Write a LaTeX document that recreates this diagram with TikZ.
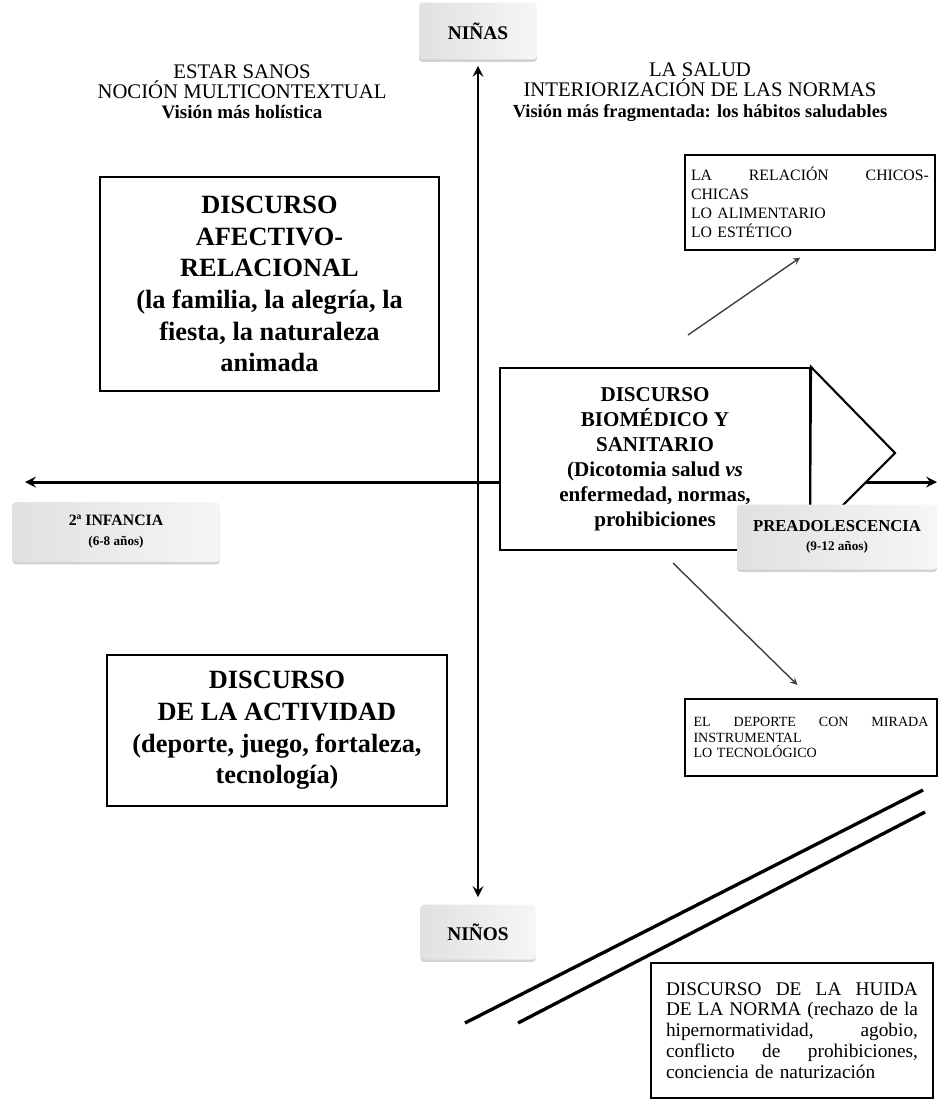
\documentclass[tikz,border=0pt]{standalone}
\usepackage{fontspec}
\setmainfont{Liberation Serif}
\usetikzlibrary{positioning, arrows, shadows}
\tikzset{>=stealth,
  discbox/.style={draw, line width=1.2pt, fill=white, align=center, font=\bfseries\fontsize{15}{18}\selectfont},
  agebox/.style={left color=gray!24, right color=gray!7, rounded corners=2pt, align=center,
    drop shadow={shadow xshift=0pt, shadow yshift=-1.4pt, opacity=.45, fill=gray!80},
    font=\bfseries\fontsize{9}{11.5}\selectfont},
  notebox/.style={draw, line width=0.9pt, fill=white, align=left, inner ysep=4pt},
  header/.style={align=center, font=\fontsize{11.8}{11.5}\selectfont},
  axis/.style={<->, line width=1.7pt},
  pointer/.style={->, line width=0.8pt, black!75},
  bar/.style={line width=1.9pt},
}
\newcommand{\justline}[1]{\makebox[\hsize][s]{\spaceskip=0.3em plus 1fil\relax #1}}

\begin{document}
\begin{tikzpicture}[x=0.02cm, y=-0.02cm]
    \useasboundingbox (0,0) rectangle (938,1099);
    % sexo
    \node[agebox, minimum width=2.36cm, minimum height=1.14cm, font=\bfseries\fontsize{11}{13}\selectfont] (ninas) at (478,31) {NIÑAS};
    \node[agebox, minimum width=2.3cm, minimum height=1.1cm, font=\bfseries\fontsize{11}{13}\selectfont] (ninos) at (478,932) {NIÑOS};
    \coordinate (west) at (25,482);
    \coordinate (east) at (937,482);
    \draw[axis, shorten <=0.14cm, shorten >=0.12cm] (ninos.north) -- (ninas.south);
    \draw[axis] (west) -- (east);

    \node[header] (sanos) at (242,92) {ESTAR SANOS\\NOCIÓN MULTICONTEXTUAL\\{\bfseries\fontsize{10.8}{11.5}\selectfont Visión más holística}};
    \node[header] (salud) at (700,92) {LA SALUD\\INTERIORIZACIÓN DE LAS NORMAS\\{\bfseries\fontsize{10.5}{11.5}\selectfont Visión más fragmentada: los hábitos saludables}};

    % discursos
    \node[discbox, minimum width=6.78cm, minimum height=4.28cm] (afectivo) at (269.5,284)
        {DISCURSO\\AFECTIVO-\\RELACIONAL\\(la familia, la alegría, la\\fiesta, la naturaleza\\animada};
    \node[discbox, minimum width=6.8cm, minimum height=3.02cm] (actividad) at (277,730.5)
        {DISCURSO\\DE LA ACTIVIDAD\\(deporte, juego, fortaleza,\\tecnología)};
    \node[discbox, minimum width=6.2cm, minimum height=3.64cm, font=\bfseries\fontsize{12}{14.2}\selectfont] (biomed) at (655,459)
        {DISCURSO\\BIOMÉDICO Y\\SANITARIO\\(Dicotomia salud \textit{vs}\\enfermedad, normas,\\prohibiciones};
    \coordinate (tip) at (895,453);
    \coordinate (foot) at (810,538);
    \draw[line width=1.2pt, fill=white] (biomed.north east) -- (tip) -- (foot) -- cycle;

    \node[agebox, minimum width=4.14cm, minimum height=1.2cm] (infancia) at (116,532)
        {2ª INFANCIA\\{\fontsize{7.5}{9}\selectfont (6-8 años)}};
    \node[agebox, minimum width=4cm, minimum height=1.3cm, font=\bfseries\fontsize{9.5}{11}\selectfont] (preadol) at (837,537)
        {PREADOLESCENCIA\\{\fontsize{7.5}{9}\selectfont (9-12 años)}};

    % temas
    \node[notebox, text width=4.76cm, inner xsep=0.12cm, minimum height=1.9cm, font=\fontsize{9}{10.8}\selectfont] (chicos) at (810,202.5)
        {\justline{LA RELACIÓN CHICOS-}\\CHICAS\\LO ALIMENTARIO\\LO ESTÉTICO};
    \node[notebox, text width=4.7cm, inner xsep=0.17cm, minimum height=1.54cm, font=\fontsize{8}{8.8}\selectfont] (deporte) at (811,737.5)
        {\justline{EL DEPORTE CON MIRADA}\\INSTRUMENTAL\\LO TECNOLÓGICO};
    \node[notebox, line width=1.1pt, text width=5.04cm, inner xsep=0.3cm, minimum height=2.7cm, font=\fontsize{11}{11.9}\selectfont] (huida) at (792,1030.5)
        {\justline{DISCURSO DE LA HUIDA}\\\justline{DE LA NORMA (rechazo de la}\\\justline{hipernormatividad, agobio,}\\\justline{conflicto de prohibiciones,}\\conciencia de naturización};

    \coordinate (up from) at (688,335);
    \coordinate (down from) at (673,563);
    \draw[pointer, shorten >=0.24cm] (up from) -- (chicos.south);
    \draw[pointer, shorten >=0.38cm] (down from) -- (deporte.north);

    % ruptura
    \coordinate (bar1a) at (465,1023);
    \coordinate (bar1b) at (923,790);
    \coordinate (bar2a) at (518,1023);
    \coordinate (bar2b) at (925,812);
    \draw[bar] (bar1a) -- (bar1b);
    \draw[bar] (bar2a) -- (bar2b);
\end{tikzpicture}
\end{document}
